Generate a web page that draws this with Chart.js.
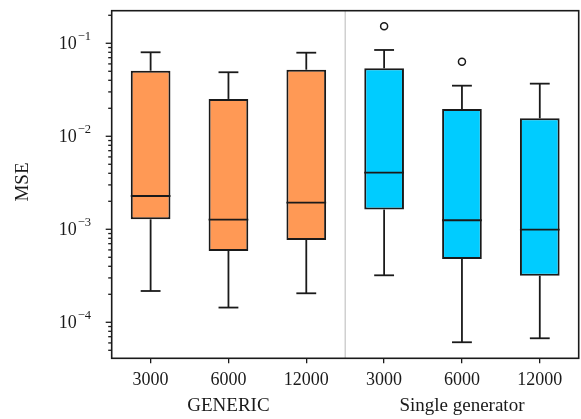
<!DOCTYPE html>
<html>
<head>
<meta charset="utf-8">
<script src="https://cdn.jsdelivr.net/npm/chart.js@4.4.0/dist/chart.umd.min.js"></script>
<style>
  html, body { margin: 0; padding: 0; background: #fff; }
</style>
</head>
<body>
<canvas id="myChart" width="581" height="419"></canvas>
<script>
// box plot values (MSE, log axis)
const categories = ['3000', '6000', '12000', '3000', '6000', '12000'];
const groups = ['GENERIC', 'Single generator'];
const groupSpans = [[0, 2], [3, 5]];
const whiskerLow = [0.000217, 0.000144, 0.000205, 0.00032, 0.000061, 0.0000673];
const q1 = [0.00128, 0.000585, 0.000767, 0.00163, 0.00048, 0.000317];
const median = [0.00228, 0.00127, 0.00193, 0.00406, 0.00125, 0.00099];
const q3 = [0.0507, 0.0252, 0.052, 0.0538, 0.0197, 0.0156];
const whiskerHigh = [0.080, 0.0488, 0.0792, 0.0847, 0.035, 0.0368];
const outliers = [[], [], [], [0.152], [0.0634], []];
const yTickPowers = [-1, -2, -3, -4];

const ORANGE = '#ff9955';
const CYAN = '#00ccff';
const INK = '#1a1a1a';
const SERIF = '"Liberation Serif", "DejaVu Serif", serif';

const boxColors = categories.map((c, i) => (i < 3 ? ORANGE : CYAN));

const line = (ctx, x1, y1, x2, y2) => {
  ctx.beginPath();
  ctx.moveTo(x1, y1);
  ctx.lineTo(x2, y2);
  ctx.stroke();
};

const boxPlotExtras = {
  id: 'boxPlotExtras',
  beforeDatasetsDraw(chart) {
    const { ctx, chartArea, scales: { x } } = chart;
    // thin gray divider between the two groups
    const sepX = (x.getPixelForValue(2) + x.getPixelForValue(3)) / 2;
    ctx.save();
    ctx.strokeStyle = '#c4c4c4';
    ctx.lineWidth = 1.2;
    line(ctx, sepX, chartArea.top, sepX, chartArea.bottom);
    ctx.restore();
  },
  afterDatasetsDraw(chart) {
    const { ctx, scales: { x, y } } = chart;
    const bars = chart.getDatasetMeta(0).data;
    ctx.save();
    ctx.strokeStyle = INK;
    ctx.lineWidth = 1.8;
    categories.forEach((c, i) => {
      const cx = x.getPixelForValue(i);
      const half = bars[i].width / 2;
      const cap = half / 2;
      const yHi = y.getPixelForValue(whiskerHigh[i]);
      const yLo = y.getPixelForValue(whiskerLow[i]);
      line(ctx, cx, y.getPixelForValue(q3[i]), cx, yHi);
      line(ctx, cx - cap, yHi, cx + cap, yHi);
      line(ctx, cx, y.getPixelForValue(q1[i]), cx, yLo);
      line(ctx, cx - cap, yLo, cx + cap, yLo);
      const ym = y.getPixelForValue(median[i]);
      line(ctx, cx - half, ym, cx + half, ym);
      ctx.lineWidth = 1.5;
      outliers[i].forEach((v) => {
        ctx.beginPath();
        ctx.arc(cx, y.getPixelForValue(v), 3.5, 0, Math.PI * 2);
        ctx.stroke();
      });
      ctx.lineWidth = 1.8;
    });
    ctx.restore();
  },
  afterDraw(chart) {
    const { ctx, chartArea, scales: { x, y } } = chart;
    ctx.save();
    // frame
    ctx.strokeStyle = INK;
    ctx.lineWidth = 1.6;
    ctx.strokeRect(chartArea.left, chartArea.top, chartArea.right - chartArea.left, chartArea.bottom - chartArea.top);

    // log ticks on the y axis
    ctx.lineWidth = 1.3;
    for (let d = -6; d <= 1; d++) {
      for (let m = 1; m <= 9; m++) {
        const v = m * Math.pow(10, d);
        if (v < y.min || v > y.max) continue;
        const py = y.getPixelForValue(v);
        const len = m === 1 ? 6 : 3.5;
        line(ctx, chartArea.left - len, py, chartArea.left, py);
      }
    }

    // y tick labels 10^n
    ctx.fillStyle = INK;
    ctx.textBaseline = 'alphabetic';
    ctx.textAlign = 'left';
    yTickPowers.forEach((p) => {
      const py = y.getPixelForValue(Math.pow(10, p));
      ctx.font = '18px ' + SERIF;
      const base = '10';
      const wBase = ctx.measureText(base).width;
      ctx.font = '12.5px ' + SERIF;
      const sup = '\u2212' + Math.abs(p);
      const wSup = ctx.measureText(sup).width;
      const x0 = 91 - wBase - wSup - 1;
      ctx.font = '18px ' + SERIF;
      ctx.fillText(base, x0, py + 6);
      ctx.font = '12.5px ' + SERIF;
      ctx.fillText(sup, x0 + wBase + 1, py - 3.5);
    });

    // axis title
    ctx.font = '19px ' + SERIF;
    ctx.textAlign = 'center';
    ctx.textBaseline = 'middle';
    ctx.save();
    ctx.translate(23, 182);
    ctx.rotate(-Math.PI / 2);
    ctx.fillText('MSE', 0, 0);
    ctx.restore();

    // group labels
    groups.forEach((g, k) => {
      const gx = (x.getPixelForValue(groupSpans[k][0]) + x.getPixelForValue(groupSpans[k][1])) / 2;
      ctx.fillText(g, gx, 406.5);
    });
    ctx.restore();
  }
};

const ctx = document.getElementById('myChart').getContext('2d');
const chart = new Chart(ctx, {
  type: 'bar',
  data: {
    labels: categories,
    datasets: [{
      data: q1.map((v, i) => [v, q3[i]]),
      backgroundColor: boxColors,
      borderColor: INK,
      borderWidth: 2,
      borderSkipped: false,
      barPercentage: 0.51,
      categoryPercentage: 1
    }]
  },
  options: {
    responsive: false,
    animation: false,
    layout: { padding: { top: 10.7, right: 2.3, left: 0, bottom: 0 } },
    plugins: { legend: { display: false }, tooltip: { enabled: false } },
    scales: {
      x: {
        offset: true,
        grid: { offset: false, drawOnChartArea: false, drawTicks: true, tickLength: 5, color: INK, lineWidth: 1.3 },
        border: { display: false },
        ticks: { color: INK, font: { family: SERIF, size: 18 }, padding: 6, maxRotation: 0 },
        afterFit: (scale) => { scale.height = 60.7; }
      },
      y: {
        type: 'logarithmic',
        min: 0.000041,
        max: 0.224,
        grid: { display: false },
        border: { display: false },
        ticks: { display: false },
        afterFit: (scale) => { scale.width = 111.7; }
      }
    }
  },
  plugins: [boxPlotExtras]
});
</script>
</body>
</html>
